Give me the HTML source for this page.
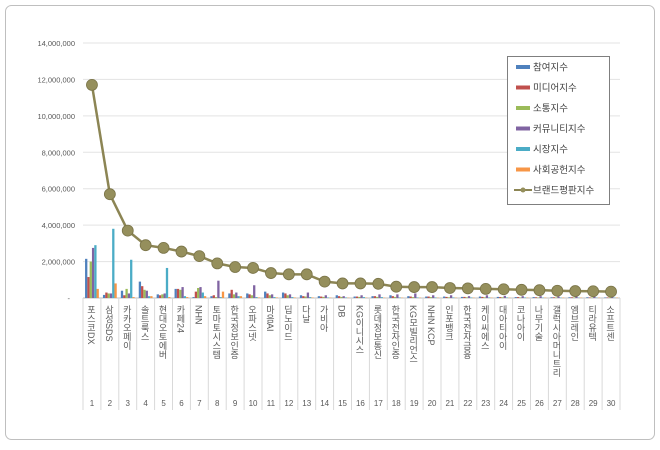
<!DOCTYPE html>
<html><head><meta charset="utf-8">
<style>
body{margin:0;background:#fff;font-family:"Liberation Sans","Noto Sans CJK KR",sans-serif;}
svg text{font-family:"Liberation Sans","Noto Sans CJK KR",sans-serif;}
</style></head>
<body>
<svg id="chart" width="660" height="445" xmlns="http://www.w3.org/2000/svg">
<rect x="5.5" y="5.5" width="649" height="434" rx="6" fill="#fff" stroke="#bfbfbf"/>
<g id="grid"></g><g id="bars"></g><g id="line"></g><g id="axis"></g>
<g>
<rect x="507.5" y="56.5" width="102" height="148" fill="#fff" stroke="#7f7f7f"/>
<g id="legend"></g>
</g>
</svg>
<script>
const categories=["포스코DX","삼성SDS","카카오페이","솔트룩스","현대오토에버","카페24","NHN","토마토시스템","한국정보인증","오파스넷","마음AI","딥노이드","다날","가비아","DB","KG이니시스","롯데정보통신","한국전자인증","KG모빌리언스","NHN KCP","인포뱅크","한국전자금융","케이씨에스","대아티아이","코나아이","나무기술","갤럭시아머니트리","엠브레인","티라유텍","소프트센"];
const seriesNames=["참여지수","미디어지수","소통지수","커뮤니티지수","시장지수","사회공헌지수"];
const participation=[2150000,170000,400000,900000,200000,500000,50000,100000,250000,250000,350000,300000,150000,100000,150000,80000,100000,150000,100000,80000,80000,60000,80000,60000,50000,50000,40000,40000,40000,30000];
const media=[1150000,300000,150000,650000,150000,500000,350000,150000,450000,200000,250000,250000,100000,80000,100000,80000,100000,100000,80000,80000,60000,60000,60000,50000,50000,40000,40000,40000,30000,30000];
const communication=[2000000,250000,500000,450000,200000,450000,550000,50000,200000,150000,150000,150000,80000,60000,60000,60000,60000,60000,50000,50000,40000,40000,40000,40000,30000,30000,30000,30000,30000,30000];
const community=[2750000,250000,250000,400000,250000,600000,600000,950000,300000,700000,200000,200000,300000,150000,100000,150000,200000,200000,250000,150000,150000,100000,150000,120000,100000,100000,80000,100000,100000,80000];
const market=[2900000,3800000,2100000,100000,1650000,100000,300000,50000,100000,50000,50000,50000,50000,30000,30000,50000,50000,30000,30000,30000,30000,30000,30000,30000,30000,20000,20000,20000,20000,20000];
const social=[500000,800000,50000,100000,50000,50000,100000,350000,100000,30000,30000,30000,30000,20000,20000,20000,20000,20000,20000,20000,20000,20000,20000,20000,20000,20000,20000,20000,20000,20000];
const brandIndex=[11700000,5700000,3700000,2900000,2750000,2550000,2300000,1900000,1700000,1650000,1370000,1300000,1300000,900000,800000,800000,780000,620000,600000,600000,550000,530000,500000,480000,450000,430000,400000,380000,370000,350000];
const yTicks=[0,2000000,4000000,6000000,8000000,10000000,12000000,14000000];
const yTickLabels=["-","2,000,000","4,000,000","6,000,000","8,000,000","10,000,000","12,000,000","14,000,000"];
const colors=["#4f81bd","#c0504d","#9bbb59","#8064a2","#4bacc6","#f79646"];
const series=[participation,media,communication,community,market,social];
const NS="http://www.w3.org/2000/svg";
const L=83,R=620,T=43,B=298,yMax=14000000;
const cw=(R-L)/categories.length;
const y=v=>B-(v/yMax)*(B-T);
const x=i=>L+cw*(i+0.5);
function mk(p,tag,a){const e=document.createElementNS(NS,tag);for(const k in a)e.setAttribute(k,a[k]);document.getElementById(p).appendChild(e);return e;}
yTicks.forEach((t,i)=>{
 const g=mk("grid","line",{x1:L,x2:R,y1:y(t),y2:y(t),stroke:i==0?"#bfbfbf":"#e3e3e3"});
 
 
 const tx=mk("axis","text",{x:i==0?70:75,y:y(t)+3,"text-anchor":"end","font-size":"7.5",fill:"#595959"});
 tx.textContent=yTickLabels[i];
 
 
});
for(let i=0;i<=categories.length;i++){
 const l=mk("axis","line",{x1:L+cw*i,x2:L+cw*i,y1:B,y2:410,stroke:"#d9d9d9"});
 
 
}
const bw=2.3;
series.forEach((s,si)=>{
 s.forEach((v,i)=>{
  const bx=x(i)-bw*3+si*bw;
  const r=mk("bars","rect",{x:bx,y:y(v),width:bw,height:B-y(v),fill:colors[si]});
  
  
 });
});
const pts=brandIndex.map((v,i)=>x(i)+","+y(v)).join(" ");
const pl=mk("line","polyline",{points:pts,fill:"none",stroke:"#8c8554","stroke-width":"2.5"});


brandIndex.forEach((v,i)=>{
 const c=mk("line","circle",{cx:x(i),cy:y(v),r:5.5,fill:"#958f5c",stroke:"#7a7448","stroke-width":"0.8"});
 
 
});
categories.forEach((c,i)=>{
 const t=mk("axis","text",{x:x(i)-1,y:305,"font-size":"9",fill:"#595959","writing-mode":"vertical-rl","style":"writing-mode:vertical-rl"});
 t.textContent=c;
 
 
 const n=mk("axis","text",{x:x(i),y:406,"font-size":"8","text-anchor":"middle",fill:"#595959"});
 n.textContent=String(i+1);
 
 
});
const legendNames=seriesNames.concat(["브랜드평판지수"]);
legendNames.forEach((n,i)=>{
 const ly=67+i*20.5;
 if(i<6){
  const r=mk("legend","rect",{x:516,y:ly-2,width:14,height:4,fill:colors[i]});
  
  
 }else{
  const l=mk("legend","line",{x1:514,x2:532,y1:ly,y2:ly,stroke:"#8c8554","stroke-width":"2"});
  
  
  const c=mk("legend","circle",{cx:523,cy:ly,r:2.5,fill:"#958f5c"});
  
  
 }
 const t=mk("legend","text",{x:533,y:ly+3.5,"font-size":"9.5",fill:"#404040"});
 t.textContent=n;
 
 
});
</script>
</body></html>
